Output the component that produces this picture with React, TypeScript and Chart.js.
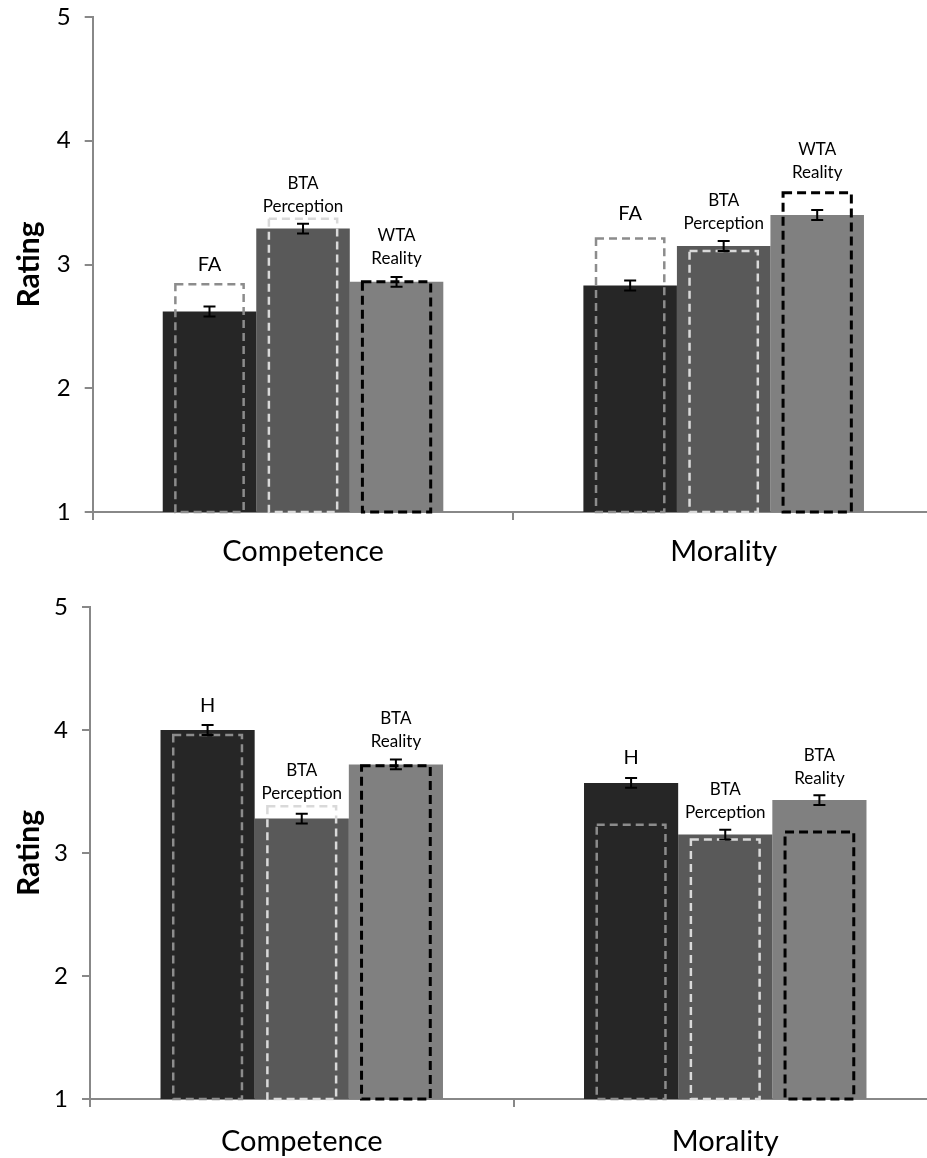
import React, { useEffect, useRef } from 'react';
import { Chart, registerables } from 'chart.js';
Chart.register(...registerables);

// ---------- Data ----------
const categories = ['Competence', 'Morality'];
const yMin = 1;
const yMax = 5;
const yStep = 1;

// Panel A (top)
const topBarLabels = [['FA'], ['BTA', 'Perception'], ['WTA', 'Reality']];
const topFA = [2.62, 2.83];
const topBTAPerception = [3.29, 3.15];
const topWTAReality = [2.86, 3.40];
const topFAErr = [0.04, 0.04];
const topBTAPerceptionErr = [0.04, 0.04];
const topWTARealityErr = [0.04, 0.04];
const topFAOutline = [2.84, 3.21];
const topBTAPerceptionOutline = [3.37, 3.11];
const topWTARealityOutline = [2.86, 3.58];

// Panel B (bottom)
const botBarLabels = [['H'], ['BTA', 'Perception'], ['BTA', 'Reality']];
const botH = [4.00, 3.57];
const botBTAPerception = [3.28, 3.15];
const botBTAReality = [3.72, 3.43];
const botHErr = [0.04, 0.04];
const botBTAPerceptionErr = [0.04, 0.04];
const botBTARealityErr = [0.04, 0.04];
const botHOutline = [3.96, 3.23];
const botBTAPerceptionOutline = [3.38, 3.11];
const botBTARealityOutline = [3.71, 3.17];

// ---------- Styles ----------
const barColors = ['#262626', '#595959', '#808080'];
const outlineStyles = [
  { color: '#8c8c8c', width: 2.5, dash: [8, 5] },
  { color: '#d9d9d9', width: 2.5, dash: [8, 5] },
  { color: '#000000', width: 3, dash: [9, 5] },
];
const axisColor = '#888888';
const FONT = 'Lato';
// pixel gap between top of bar/outline and the centre of the label's last line
const topLabelGaps = [[20, 25], [12, 17], [18, 20]];
const botLabelGaps = [[20, 20], [13, 17], [18, 17]];

const annotatePlugin = (
  values: number[][],
  errs: number[][],
  outlines: number[][],
  labels: string[][],
  gaps: number[][]
) => ({
  id: 'annotate',
  afterDatasetsDraw(chart: any) {
    const ctx = chart.ctx;
    const y = chart.scales.y;
    const basePx = y.getPixelForValue(yMin);
    values.forEach((series, i) => {
      const meta = chart.getDatasetMeta(i);
      series.forEach((v, j) => {
        const el = meta.data[j];
        const { x, width } = el.getProps(['x', 'width'], true);
        // dashed outline
        const st = outlineStyles[i];
        const w = width * 0.73;
        const oTop = y.getPixelForValue(outlines[i][j]);
        ctx.save();
        ctx.strokeStyle = st.color;
        ctx.lineWidth = st.width;
        ctx.setLineDash(st.dash);
        ctx.strokeRect(x - w / 2, oTop, w, basePx - oTop);
        ctx.restore();
        // error bar
        const hi = y.getPixelForValue(v + errs[i][j]);
        const lo = y.getPixelForValue(v - errs[i][j]);
        ctx.save();
        ctx.strokeStyle = '#000';
        ctx.lineWidth = 2;
        ctx.beginPath();
        ctx.moveTo(x, hi);
        ctx.lineTo(x, lo);
        ctx.moveTo(x - 6, hi);
        ctx.lineTo(x + 6, hi);
        ctx.moveTo(x - 6, lo);
        ctx.lineTo(x + 6, lo);
        ctx.stroke();
        ctx.restore();
        // label
        const lines = labels[i];
        const obstacle = Math.min(hi, oTop);
        const last = obstacle - gaps[i][j];
        ctx.save();
        ctx.fillStyle = '#000';
        ctx.textAlign = 'center';
        ctx.textBaseline = 'middle';
        if (lines.length === 1) {
          ctx.font = `20px ${FONT}`;
          ctx.fillText(lines[0], x, last);
        } else {
          ctx.font = `17px ${FONT}`;
          const lh = 23;
          lines.forEach((t, k) => {
            ctx.fillText(t, x, last - (lines.length - 1 - k) * lh);
          });
        }
        ctx.restore();
      });
    });
  },
});

type PanelProps = {
  values: number[][];
  errs: number[][];
  outlines: number[][];
  labels: string[][];
  gaps: number[][];
  top: number;
  height: number;
  padTop: number;
  padRight: number;
  yWidth: number;
  xHeight: number;
  xPad: number;
};

function Panel(p: PanelProps) {
  const ref = useRef<HTMLCanvasElement | null>(null);
  useEffect(() => {
    let chart: Chart | null = null;
    let cancelled = false;
    const make = () => {
      if (cancelled || !ref.current) return;
      chart = new Chart(ref.current, {
        type: 'bar',
        data: {
          labels: categories,
          datasets: p.values.map((vals, i) => ({
            label: p.labels[i].join(' '),
            data: vals,
            backgroundColor: barColors[i],
            borderWidth: 0,
            categoryPercentage: 0.667,
            barPercentage: 1,
          })),
        },
        options: {
          responsive: false,
          animation: false,
          layout: {
            autoPadding: false,
            padding: { top: p.padTop, right: p.padRight, left: 0, bottom: 0 },
          },
          plugins: { legend: { display: false }, tooltip: { enabled: false } },
          scales: {
            x: {
              offset: true,
              grid: {
                offset: true,
                drawOnChartArea: false,
                drawTicks: true,
                tickLength: 8,
                color: axisColor,
                lineWidth: 2,
              },
              border: { color: axisColor, width: 2 },
              ticks: { font: { family: FONT, size: 29 }, color: '#000', padding: p.xPad },
              afterFit: (s: any) => {
                s.height = p.xHeight;
                s.paddingLeft = 0;
                s.paddingRight = 0;
              },
            },
            y: {
              min: yMin,
              max: yMax,
              ticks: { stepSize: yStep, font: { family: FONT, size: 24 }, color: '#000', padding: 14 },
              grid: { drawOnChartArea: false, drawTicks: true, tickLength: 8, color: axisColor, lineWidth: 2 },
              border: { color: axisColor, width: 2 },
              title: {
                display: true,
                text: 'Rating',
                font: { family: FONT, size: 30, weight: 'bold' },
                color: '#000',
                padding: { top: 11, bottom: 0 },
              },
              afterFit: (s: any) => {
                s.width = p.yWidth;
                s.paddingTop = 0;
                s.paddingBottom = 0;
              },
            },
          },
        },
        plugins: [annotatePlugin(p.values, p.errs, p.outlines, p.labels, p.gaps)],
      } as any);
    };
    const fonts = (document as any).fonts;
    if (fonts && fonts.load) {
      Promise.all([fonts.load(`20px ${FONT}`), fonts.load(`bold 30px ${FONT}`)])
        .catch(() => {})
        .then(make);
    } else make();
    return () => {
      cancelled = true;
      if (chart) chart.destroy();
    };
  }, []);
  return (
    <canvas
      ref={ref}
      width={950}
      height={p.height}
      style={{ position: 'absolute', left: 0, top: p.top, width: 950, height: p.height }}
    />
  );
}

export default function App() {
  return (
    <div
      style={{
        position: 'absolute',
        left: 0,
        top: 0,
        width: 927,
        height: 1158,
        overflow: 'hidden',
        background: '#fff',
      }}
    >
      <Panel
        values={[topFA, topBTAPerception, topWTAReality]}
        errs={[topFAErr, topBTAPerceptionErr, topWTARealityErr]}
        outlines={[topFAOutline, topBTAPerceptionOutline, topWTARealityOutline]}
        labels={topBarLabels}
        gaps={topLabelGaps}
        top={0}
        height={580}
        padTop={17}
        padRight={16}
        yWidth={92.7}
        xHeight={68}
        xPad={14}
      />
      <Panel
        values={[botH, botBTAPerception, botBTAReality]}
        errs={[botHErr, botBTAPerceptionErr, botBTARealityErr]}
        outlines={[botHOutline, botBTAPerceptionOutline, botBTARealityOutline]}
        labels={botBarLabels}
        gaps={botLabelGaps}
        top={580}
        height={578}
        padTop={27}
        padRight={13}
        yWidth={90}
        xHeight={59}
        xPad={17}
      />
    </div>
  );
}
